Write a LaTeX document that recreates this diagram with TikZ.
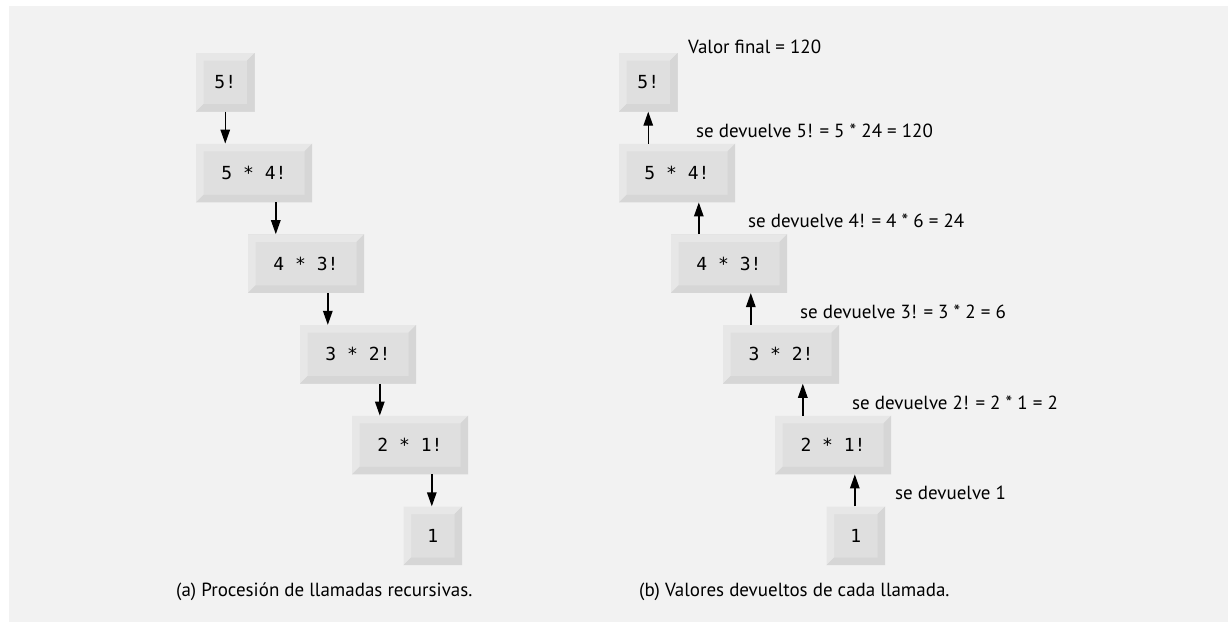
\documentclass[tikz,border=0pt]{standalone}
\usepackage{fontspec}
\setmainfont{PT Sans}
\newfontfamily\monof{DejaVu Sans Mono}
\usetikzlibrary{arrows.meta}
\definecolor{bgc}{HTML}{F2F2F2}
\definecolor{facec}{HTML}{DFDFDF}
\definecolor{bevlight}{HTML}{E7E7E7}
\definecolor{bevdark}{HTML}{D6D6D6}
\tikzset{
  keybox/.style={fill=facec, inner sep=0pt, minimum height=58.5pt,
    font=\monof\fontsize{18}{20}\selectfont, text=black,
    path picture={
      \fill[bevlight] (path picture bounding box.south west) -- (path picture bounding box.north west)
        -- (path picture bounding box.north east) -- ([shift={(-7.5pt,-7.5pt)}]path picture bounding box.north east)
        -- ([shift={(7.5pt,-7.5pt)}]path picture bounding box.north west) -- ([shift={(7.5pt,7.5pt)}]path picture bounding box.south west) -- cycle;
      \fill[bevdark] (path picture bounding box.south west) -- (path picture bounding box.south east)
        -- (path picture bounding box.north east) -- ([shift={(-7.5pt,-7.5pt)}]path picture bounding box.north east)
        -- ([shift={(-7.5pt,7.5pt)}]path picture bounding box.south east) -- ([shift={(7.5pt,7.5pt)}]path picture bounding box.south west) -- cycle;
    }},
  widebox/.style={keybox, minimum width=116pt},
  smallbox/.style={keybox, minimum width=58.5pt},
  arr/.style={-{Triangle[length=14pt,width=9.5pt]}, line width=1.4pt, black},
  lbl/.style={anchor=base west, inner sep=0pt, font=\fontsize{19}{22}\selectfont, text=black}
}
\begin{document}
\begin{tikzpicture}[x=1pt,y=-1pt]
\useasboundingbox (0,0) rectangle (1228,622);
\fill[white] (0,0) rectangle (1228,622);
\fill[bgc] (9,6) rectangle (1228,622);
% left column
\node[smallbox] (a5) at (225.25,82.25) {5!};
\node[widebox] (a54) at (254,173) {5 * 4!};
\node[widebox] (a43) at (306,263.6) {4 * 3!};
\node[widebox] (a32) at (358,354.3) {3 * 2!};
\node[widebox] (a21) at (410,445) {2 * 1!};
\node[smallbox] (a1) at (432.75,535.75) {1};
\draw[arr] (a5.south) -- (a5.south |- a54.north);
\draw[arr] ([xshift=80pt]a54.south west) -- ([xshift=80pt]a54.south west |- a43.north);
\draw[arr] ([xshift=80pt]a43.south west) -- ([xshift=80pt]a43.south west |- a32.north);
\draw[arr] ([xshift=80pt]a32.south west) -- ([xshift=80pt]a32.south west |- a21.north);
\draw[arr] ([xshift=80pt]a21.south west) -- ([xshift=80pt]a21.south west |- a1.north);
% right column
\node[smallbox] (b5) at (648.25,82.25) {5!};
\node[widebox] (b54) at (677,173) {5 * 4!};
\node[widebox] (b43) at (729,263.6) {4 * 3!};
\node[widebox] (b32) at (781,354.3) {3 * 2!};
\node[widebox] (b21) at (833,445) {2 * 1!};
\node[smallbox] (b1) at (855.75,535.75) {1};
\draw[arr] (b5.south |- b54.north) -- (b5.south);
\draw[arr] ([xshift=80pt]b54.south west |- b43.north) -- ([xshift=80pt]b54.south west);
\draw[arr] ([xshift=80pt]b43.south west |- b32.north) -- ([xshift=80pt]b43.south west);
\draw[arr] ([xshift=80pt]b32.south west |- b21.north) -- ([xshift=80pt]b32.south west);
\draw[arr] ([xshift=80pt]b21.south west |- b1.north) -- ([xshift=80pt]b21.south west);
% labels
\node[lbl] (l0) at (688,53) {Valor final = 120};
\node[lbl] (l5) at (696,137) {se devuelve 5! = 5 * 24 = 120};
\node[lbl] (l4) at (748,227.7) {se devuelve 4! = 4 * 6 = 24};
\node[lbl] (l3) at (800,318.4) {se devuelve 3! = 3 * 2 = 6};
\node[lbl] (l2) at (852,409) {se devuelve 2! = 2 * 1 = 2};
\node[lbl] (l1) at (895,499.5) {se devuelve 1};
% captions
\node[lbl] (ca) at (176,596) {(a) Procesión de llamadas recursivas.};
\node[lbl] (cb) at (639,596) {(b) Valores devueltos de cada llamada.};
\end{tikzpicture}
\end{document}
